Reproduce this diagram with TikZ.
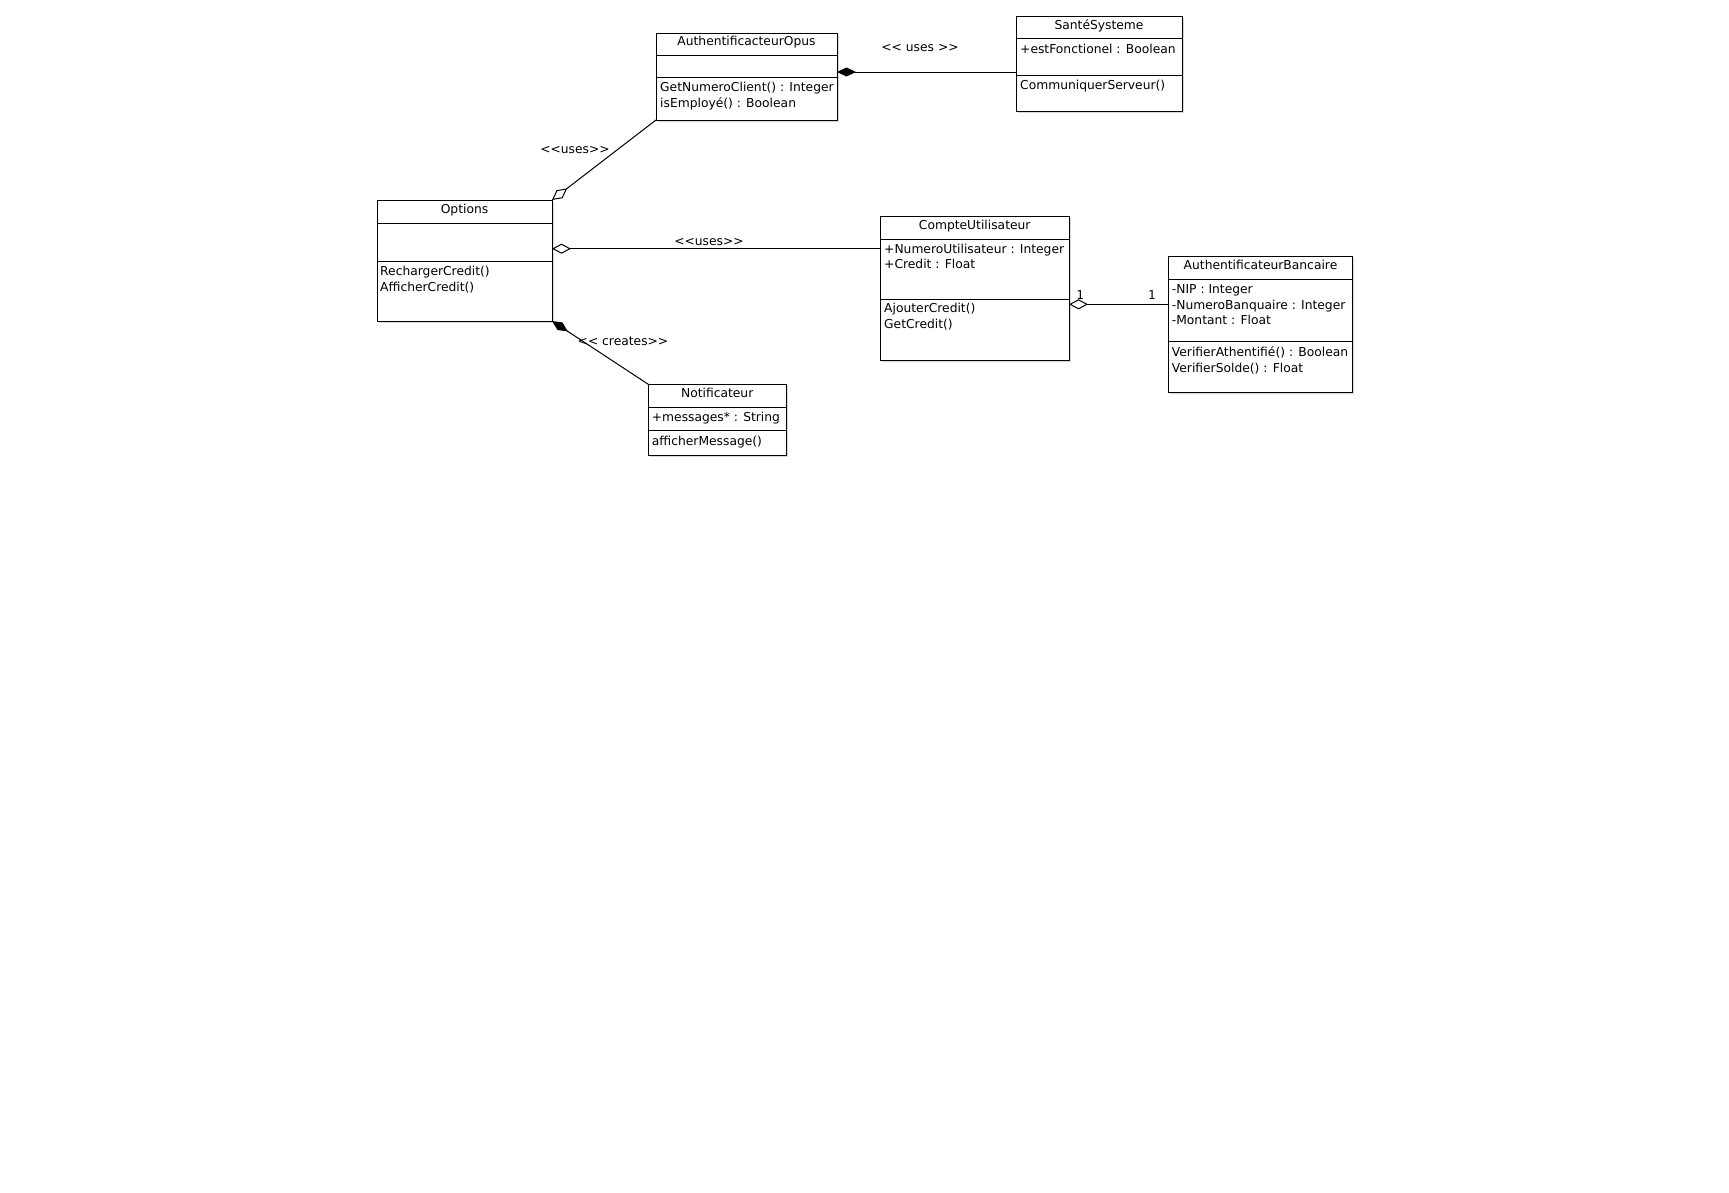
\documentclass[tikz,border=0pt]{standalone}
\usepackage{fontspec}
\setmainfont{DejaVu Sans}
\newfontfamily\monofnt{DejaVu Sans Mono}
\usetikzlibrary{arrows.meta,shadows}
\newcommand{\lsym}{\mbox{<}}
\newcommand{\gsym}{\mbox{>}}
\tikzset{
  cls/.style={draw, line width=1pt, fill=white, outer sep=0pt, inner sep=0pt, anchor=north west,
    drop shadow={shadow xshift=1.5pt, shadow yshift=-1.5pt, opacity=0.3}},
  txtfont/.style={font=\fontsize{12.3}{14}\selectfont},
  ttl/.style={txtfont, anchor=base, inner sep=0pt},
  mem/.style={txtfont, anchor=base west, inner sep=0pt},
  lbl/.style={txtfont, anchor=base, inner sep=0pt},
  mult/.style={font=\monofnt\fontsize{12.3}{14}\selectfont, anchor=base, inner sep=0pt},
  sepline/.style={line width=1pt},
  agg/.style={line width=1pt, {Diamond[open,length=19pt,width=10pt]}-},
  comp/.style={line width=1pt, {Diamond[length=19pt,width=9pt]}-},
}
\begin{document}
\begin{tikzpicture}[x=1pt,y=-1pt]
\useasboundingbox (0,0) rectangle (1729,1192);

% AuthentificacteurOpus
\node[cls, minimum width=181pt, minimum height=87pt] (AO) at (656,33) {};
\draw[sepline] (AO.west |- 0,55) -- (AO.east |- 0,55);
\draw[sepline] (AO.west |- 0,77) -- (AO.east |- 0,77);
\node[ttl] (AOt) at (746.5,45.5) {AuthentificacteurOpus};
\node[mem] (AOm1) at (660,91.5) {GetNumeroClient() : Integer};
\node[mem] (AOm2) at (660,107.3) {isEmployé() : Boolean};

% SantéSysteme
\node[cls, minimum width=166pt, minimum height=95pt] (SS) at (1016,16.7) {};
\draw[sepline] (SS.west |- 0,38.3) -- (SS.east |- 0,38.3);
\draw[sepline] (SS.west |- 0,75) -- (SS.east |- 0,75);
\node[ttl] (SSt) at (1099,29) {SantéSysteme};
\node[mem] (SSa1) at (1020,53.3) {+estFonctionel : Boolean};
\node[mem] (SSm1) at (1020,89) {CommuniquerServeur()};

% Options
\node[cls, minimum width=175pt, minimum height=121pt] (OP) at (377,200) {};
\draw[sepline] (OP.west |- 0,223.3) -- (OP.east |- 0,223.3);
\draw[sepline] (OP.west |- 0,261.3) -- (OP.east |- 0,261.3);
\node[ttl] (OPt) at (464.5,213.3) {Options};
\node[mem] (OPm1) at (380,275) {RechargerCredit()};
\node[mem] (OPm2) at (380,291) {AfficherCredit()};

% CompteUtilisateur
\node[cls, minimum width=188.5pt, minimum height=144pt] (CU) at (880.5,216) {};
\draw[sepline] (CU.west |- 0,239) -- (CU.east |- 0,239);
\draw[sepline] (CU.west |- 0,299) -- (CU.east |- 0,299);
\node[ttl] (CUt) at (974.7,229.3) {CompteUtilisateur};
\node[mem] (CUa1) at (884,253.3) {+NumeroUtilisateur : Integer};
\node[mem] (CUa2) at (884,268.3) {+Credit : Float};
\node[mem] (CUm1) at (884,312.7) {AjouterCredit()};
\node[mem] (CUm2) at (884,328.3) {GetCredit()};

% AuthentificateurBancaire
\node[cls, minimum width=184.4pt, minimum height=135.6pt] (AB) at (1168.3,256.7) {};
\draw[sepline] (AB.west |- 0,279.3) -- (AB.east |- 0,279.3);
\draw[sepline] (AB.west |- 0,341.7) -- (AB.east |- 0,341.7);
\node[ttl] (ABt) at (1260.5,269) {AuthentificateurBancaire};
\node[mem] (ABa1) at (1171.7,293.3) {-NIP : Integer};
\node[mem] (ABa2) at (1171.7,309) {-NumeroBanquaire : Integer};
\node[mem] (ABa3) at (1171.7,324.3) {-Montant : Float};
\node[mem] (ABm1) at (1171.7,356.7) {VerifierAthentifié() : Boolean};
\node[mem] (ABm2) at (1171.7,372.7) {VerifierSolde() : Float};

% Notificateur
\node[cls, minimum width=137.7pt, minimum height=70.7pt] (NO) at (648.3,384.3) {};
\draw[sepline] (NO.west |- 0,407.3) -- (NO.east |- 0,407.3);
\draw[sepline] (NO.west |- 0,430) -- (NO.east |- 0,430);
\node[ttl] (NOt) at (717.2,397.3) {Notificateur};
\node[mem] (NOa1) at (651.7,421.7) {+messages* : String};
\node[mem] (NOm1) at (651.7,445) {afficherMessage()};

% Connectors
\draw[comp] (AO.east |- 0,72) -- (SS.west |- 0,72);
\draw[agg] (OP.north east) -- (AO.south west);
\draw[agg] (OP.east |- 0,248.7) -- (CU.west |- 0,248.7);
\draw[comp] (OP.south east) -- (NO.north west);
\draw[agg] (CU.east |- 0,304.3) -- (AB.west |- 0,304.3);

% Labels
\node[lbl] (L1) at (920,51) {\lsym\lsym{} uses \gsym\gsym};
\node[lbl] (L2) at (575,153.3) {\lsym\lsym uses\gsym\gsym};
\node[lbl] (L3) at (709,245.7) {\lsym\lsym uses\gsym\gsym};
\node[lbl] (L4) at (623,345) {\lsym\lsym{} creates\gsym\gsym};
\node[mult] (M1) at (1080,299) {1};
\node[mult] (M2) at (1151.7,299) {1};
\end{tikzpicture}
\end{document}
